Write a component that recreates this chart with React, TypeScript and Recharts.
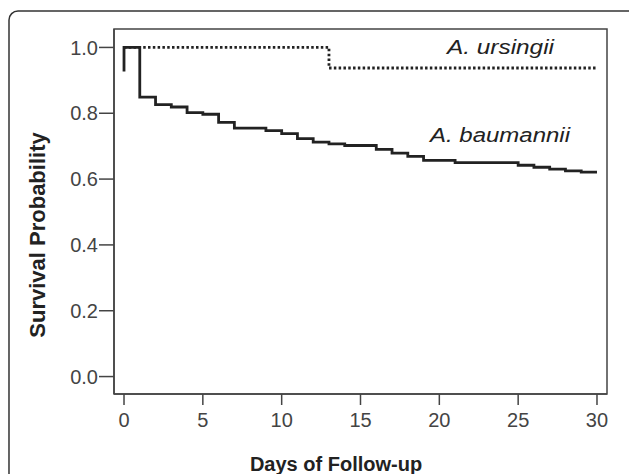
import React from "react";
import { LineChart, Line, XAxis, YAxis, ReferenceArea } from "recharts";

const xTicks = [0, 5, 10, 15, 20, 25, 30];
const yTicks = [0, 0.2, 0.4, 0.6, 0.8, 1.0];

const ursingiiDays = [0, 13, 30];
const ursingiiSurv = [1.0, 0.9375, 0.9375];

const baumanniiDays = [0, 0, 1, 2, 3, 4, 5, 6, 7, 9, 10, 11, 12, 13, 14, 16, 17, 18, 19, 21, 25, 26, 27, 28, 29, 30];
const baumanniiSurv = [0.927, 1.0, 0.849, 0.826, 0.819, 0.802, 0.797, 0.772, 0.755, 0.747, 0.738, 0.723, 0.712, 0.707, 0.702, 0.69, 0.679, 0.669, 0.657, 0.65, 0.642, 0.636, 0.63, 0.625, 0.621, 0.621];

const ursingii = ursingiiDays.map((d, i) => ({ day: d, s: ursingiiSurv[i] }));
const baumannii = baumanniiDays.map((d, i) => ({ day: d, s: baumanniiSurv[i] }));

const X_DOMAIN: [number, number] = [-0.635, 30.635];
const Y_DOMAIN: [number, number] = [-0.053, 1.056];

const FONT = "'Liberation Sans', Arial, sans-serif";

export default function App() {
  return (
    <div style={{ position: "fixed", left: 0, top: 0, width: 629, height: 474, background: "#fff" }}>
      <LineChart
        width={629}
        height={474}
        margin={{ top: 29, right: 22, bottom: 40, left: 54 }}
        style={{ position: "absolute", left: 0, top: 0 }}
      >
        <XAxis
          type="number"
          dataKey="day"
          domain={X_DOMAIN}
          ticks={xTicks}
          allowDataOverflow
          height={40}
          tickSize={11}
          tickMargin={8}
          axisLine={{ stroke: "#444", strokeWidth: 1.5 }}
          tickLine={{ stroke: "#444", strokeWidth: 1.5 }}
          tick={{ fill: "#444", fontSize: 20, fontFamily: FONT }}
          interval={0}
        />
        <YAxis
          type="number"
          dataKey="s"
          domain={Y_DOMAIN}
          ticks={yTicks}
          allowDataOverflow
          width={60}
          tickSize={15}
          tickMargin={1}
          axisLine={{ stroke: "#444", strokeWidth: 1.5 }}
          tickLine={{ stroke: "#444", strokeWidth: 1.5 }}
          tick={{ fill: "#444", fontSize: 20, fontFamily: FONT }}
          tickFormatter={(v: number) => v.toFixed(1)}
          interval={0}
        />
        <ReferenceArea
          x1={X_DOMAIN[0]}
          x2={X_DOMAIN[1]}
          y1={Y_DOMAIN[0]}
          y2={Y_DOMAIN[1]}
          fill="none"
          stroke="#444"
          strokeWidth={1.5}
          ifOverflow="extendDomain"
        />
        <Line
          data={ursingii}
          dataKey="s"
          type="stepAfter"
          stroke="#222"
          strokeWidth={2.8}
          strokeDasharray="2.5 2.3"
          dot={false}
          isAnimationActive={false}
        />
        <Line
          data={baumannii}
          dataKey="s"
          type="stepAfter"
          stroke="#222"
          strokeWidth={2.8}
          dot={false}
          isAnimationActive={false}
        />
      </LineChart>
      <svg width={629} height={474} style={{ position: "absolute", left: 0, top: 0, pointerEvents: "none" }}>
        <rect x={9} y={11} width={640} height={500} rx={9} ry={9} fill="none" stroke="#333" strokeWidth={1.5} />
        <text x={447} y={53.5} fontSize={20} fontStyle="italic" fontFamily={FONT} fill="#222" textLength={107} lengthAdjust="spacingAndGlyphs">A. ursingii</text>
        <text x={430} y={141.5} fontSize={20} fontStyle="italic" fontFamily={FONT} fill="#222" textLength={140} lengthAdjust="spacingAndGlyphs">A. baumannii</text>
        <text x={336} y={471} fontSize={20} fontWeight="bold" fontFamily={FONT} fill="#222" textAnchor="middle">Days of Follow-up</text>
        <text x={45} y={235} fontSize={22} fontWeight="bold" fontFamily={FONT} fill="#222" textAnchor="middle" transform="rotate(-90 45 235)">Survival Probability</text>
      </svg>
    </div>
  );
}
